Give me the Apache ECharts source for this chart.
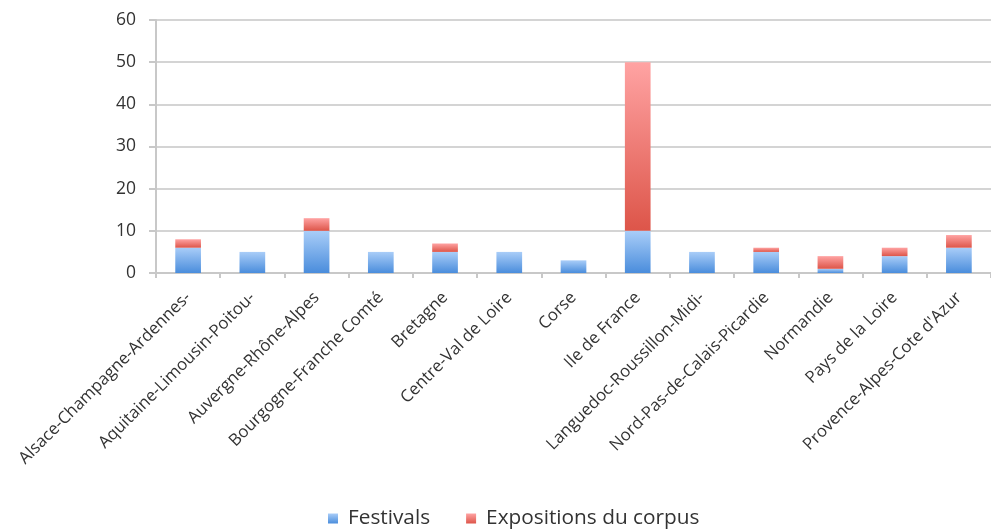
<!DOCTYPE html>
<html><head><meta charset="utf-8">
<script src="https://cdn.jsdelivr.net/npm/echarts@6/dist/echarts.min.js"></script>
<style>html,body{margin:0;padding:0;background:#fff}#c{width:991px;height:531px}</style>
</head><body><div id="c"></div>
<script>
const categories = ["Alsace-Champagne-Ardennes-","Aquitaine-Limousin-Poitou-","Auvergne-Rhône-Alpes","Bourgogne-Franche Comté","Bretagne","Centre-Val de Loire","Corse","Ile de France","Languedoc-Roussillon-Midi-","Nord-Pas-de-Calais-Picardie","Normandie","Pays de la Loire","Provence-Alpes-Cote d'Azur"];
const festivals = [6,5,10,5,5,5,3,10,5,5,1,4,6];
const expositions = [2,0,3,0,2,0,0,40,0,1,3,2,3];
const yTicks = [0,10,20,30,40,50,60];

const font = "'Open Sans', 'Liberation Sans', sans-serif";
const chart = echarts.init(document.getElementById('c'));
const grad = (top, bottom) => new echarts.graphic.LinearGradient(0,0,0,1,[{offset:0,color:top},{offset:1,color:bottom}]);
chart.setOption({
  animation:false,
  grid:{left:156,right:-12,top:20,bottom:258,containLabel:false},
  legend:{bottom:2,left:328,padding:0,itemWidth:10,itemHeight:10,itemGap:36,icon:'rect',
    textStyle:{fontFamily:font,fontSize:20.8,color:'#333',padding:[0,0,0,5]},
    data:['Festivals','Expositions du corpus']},
  xAxis:{type:'category',data:categories,
    axisLine:{lineStyle:{color:'#c8c8c8',width:2}},
    axisTick:{show:true,alignWithLabel:false,length:5,lineStyle:{color:'#c8c8c8',width:2}},
    axisLabel:{rotate:45,interval:0,margin:22,fontFamily:font,fontSize:16.8,color:'#333'}},
  yAxis:{type:'value',min:yTicks[0],max:yTicks[yTicks.length-1],interval:10,
    axisLine:{show:true,lineStyle:{color:'#c8c8c8',width:2}},
    axisTick:{show:true,length:7,lineStyle:{color:'#c8c8c8',width:2}},
    splitLine:{lineStyle:{color:'#d4d4d4',width:2}},
    axisLabel:{fontFamily:font,fontSize:17.5,color:'#333',margin:20}},
  series:[
    {name:'Festivals',type:'bar',stack:'a',data:festivals,barWidth:'40%',
      itemStyle:{color:grad('#a9cdf8','#4a8ddc')}},
    {name:'Expositions du corpus',type:'bar',stack:'a',data:expositions,barWidth:'40%',
      itemStyle:{color:grad('#ffa3a3','#dd5549')}}
  ]
});
</script></body></html>
